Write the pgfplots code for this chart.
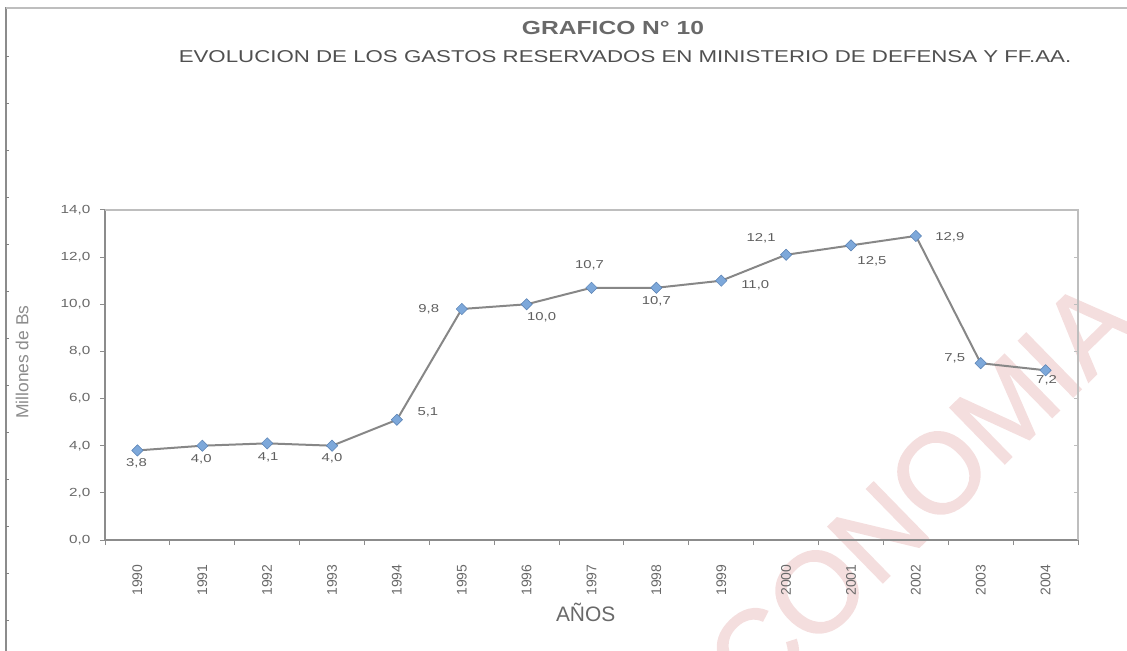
\documentclass[border=0pt]{standalone}
\usepackage{pgfplots}
\pgfplotsset{compat=1.18}
\usepackage{pgfplotstable}
\usepackage{fontspec}
\setmainfont{Liberation Sans}[FakeStretch=1.3]
\newfontfamily\rotfont{Liberation Sans}
\definecolor{wm}{RGB}{244,222,222}
\definecolor{axdark}{RGB}{140,140,140}
\definecolor{axlight}{RGB}{190,190,190}
\definecolor{txt}{RGB}{105,105,105}
\definecolor{linec}{RGB}{135,135,135}
\definecolor{mfill}{RGB}{125,168,218}
\definecolor{mdraw}{RGB}{88,128,178}

\pgfplotstableread{
x y lab dx dy
0 3.8 3,8 -1 -13
1 4.0 4,0 -1 -14
2 4.1 4,1 1 -14
3 4.0 4,0 0 -13
4 5.1 5,1 31 7
5 9.8 9,8 -33 0
6 10.0 10,0 15 -13
7 10.7 10,7 -2 23
8 10.7 10,7 0 -13
9 11.0 11,0 34 -5
10 12.1 12,1 -25 17
11 12.5 12,5 21 -16
12 12.9 12,9 34 -1
13 7.5 7,5 -26 5
14 7.2 7,2 1 -10
}\datatable

\begin{document}
\begin{tikzpicture}
\useasboundingbox (0,0) rectangle (1127bp,651bp);
% watermark
\node[rotate=44.3, text=wm, font=\rotfont\fontsize{114}{114}\selectfont\addfontfeature{FakeBold=1.5}] at (894bp,134bp) {ECONOMIA};
% page frame
\draw[color=axdark, line width=2bp] (6bp,0) -- (6bp,644bp);
\draw[color=axlight, line width=1.2bp] (6bp,643bp) -- (1127bp,643bp);
\foreach \yy in {594,547,500,453,406,359,312,265,218,171,124,77,30}
  \draw[color=gray, line width=1bp] (6bp,\yy bp) -- (9bp,\yy bp);
% titles
\node[font=\bfseries\fontsize{19}{19}\selectfont, text=txt] at (613bp,623bp) {GRAFICO N° 10};
\node[font=\fontsize{17.2}{17.2}\selectfont, text={rgb,255:red,80;green,80;blue,80}] at (625bp,594bp) {EVOLUCION DE LOS GASTOS RESERVADOS EN MINISTERIO DE DEFENSA Y FF.AA.};
\begin{axis}[
  at={(105bp,111bp)}, anchor=south west,
  scale only axis, width=973bp, height=330bp,
  xmin=-0.5, xmax=14.5, ymin=0, ymax=14,
  axis lines=left,
  axis line style={-, draw=axdark, line width=1.6bp},
  tick align=outside, major tick length=5bp,
  tick style={draw=axdark, line width=1bp},
  ytick={0,2,...,14},
  yticklabel style={/pgf/number format/fixed, /pgf/number format/fixed zerofill, /pgf/number format/precision=1, /pgf/number format/use comma, /pgf/number format/assume math mode=true, font=\fontsize{11.8}{11.8}\selectfont, text=txt, xshift=-6bp},
  xtick={-0.5,0.5,...,14.5}, xticklabels={},
  extra x ticks={0,1,...,14},
  extra x tick labels={1990,1991,1992,1993,1994,1995,1996,1997,1998,1999,2000,2001,2002,2003,2004},
  extra x tick style={tick style={draw=none}},
  xticklabel style={yshift=-16bp, rotate=90, anchor=east, font=\rotfont\fontsize{14}{14}\selectfont, text=txt},
  ylabel={Millones de Bs},
  ylabel style={at={(axis description cs:-0.0851,0.539)}, anchor=center, rotate=0, font=\rotfont\fontsize{17.5}{17.5}\selectfont, text={rgb,255:red,140;green,140;blue,140}},
  xlabel={AÑOS},
  xlabel style={at={(axis description cs:0.494,-0.22)}, anchor=center, font=\rotfont\fontsize{21}{21}\selectfont, text=txt},
  clip=false,
  after end axis/.code={
    \draw[color=axlight, line width=1.2bp] (rel axis cs:0,1) -- (rel axis cs:1,1) -- (rel axis cs:1,0);
    \foreach \yy in {2,4,...,12} \draw[color=axlight, line width=1bp] (axis cs:14.5,\yy) -- ++(-4bp,0);
  },
]
\addplot[color=linec, line width=2bp, mark=square*, mark size=4bp,
  mark options={rotate=45, fill=mfill, draw=mdraw, line width=0.5bp},
  point meta=explicit symbolic,
  visualization depends on={\thisrow{dx}\as\mydx},
  visualization depends on={\thisrow{dy}\as\mydy},
  nodes near coords,
  nodes near coords style={anchor=center, xshift=\mydx bp, yshift=\mydy bp, font=\fontsize{11.5}{11.5}\selectfont, text={rgb,255:red,95;green,95;blue,95}, inner sep=0pt}
] table[x=x, y=y, meta=lab] {\datatable};
\end{axis}
\end{tikzpicture}
\end{document}
